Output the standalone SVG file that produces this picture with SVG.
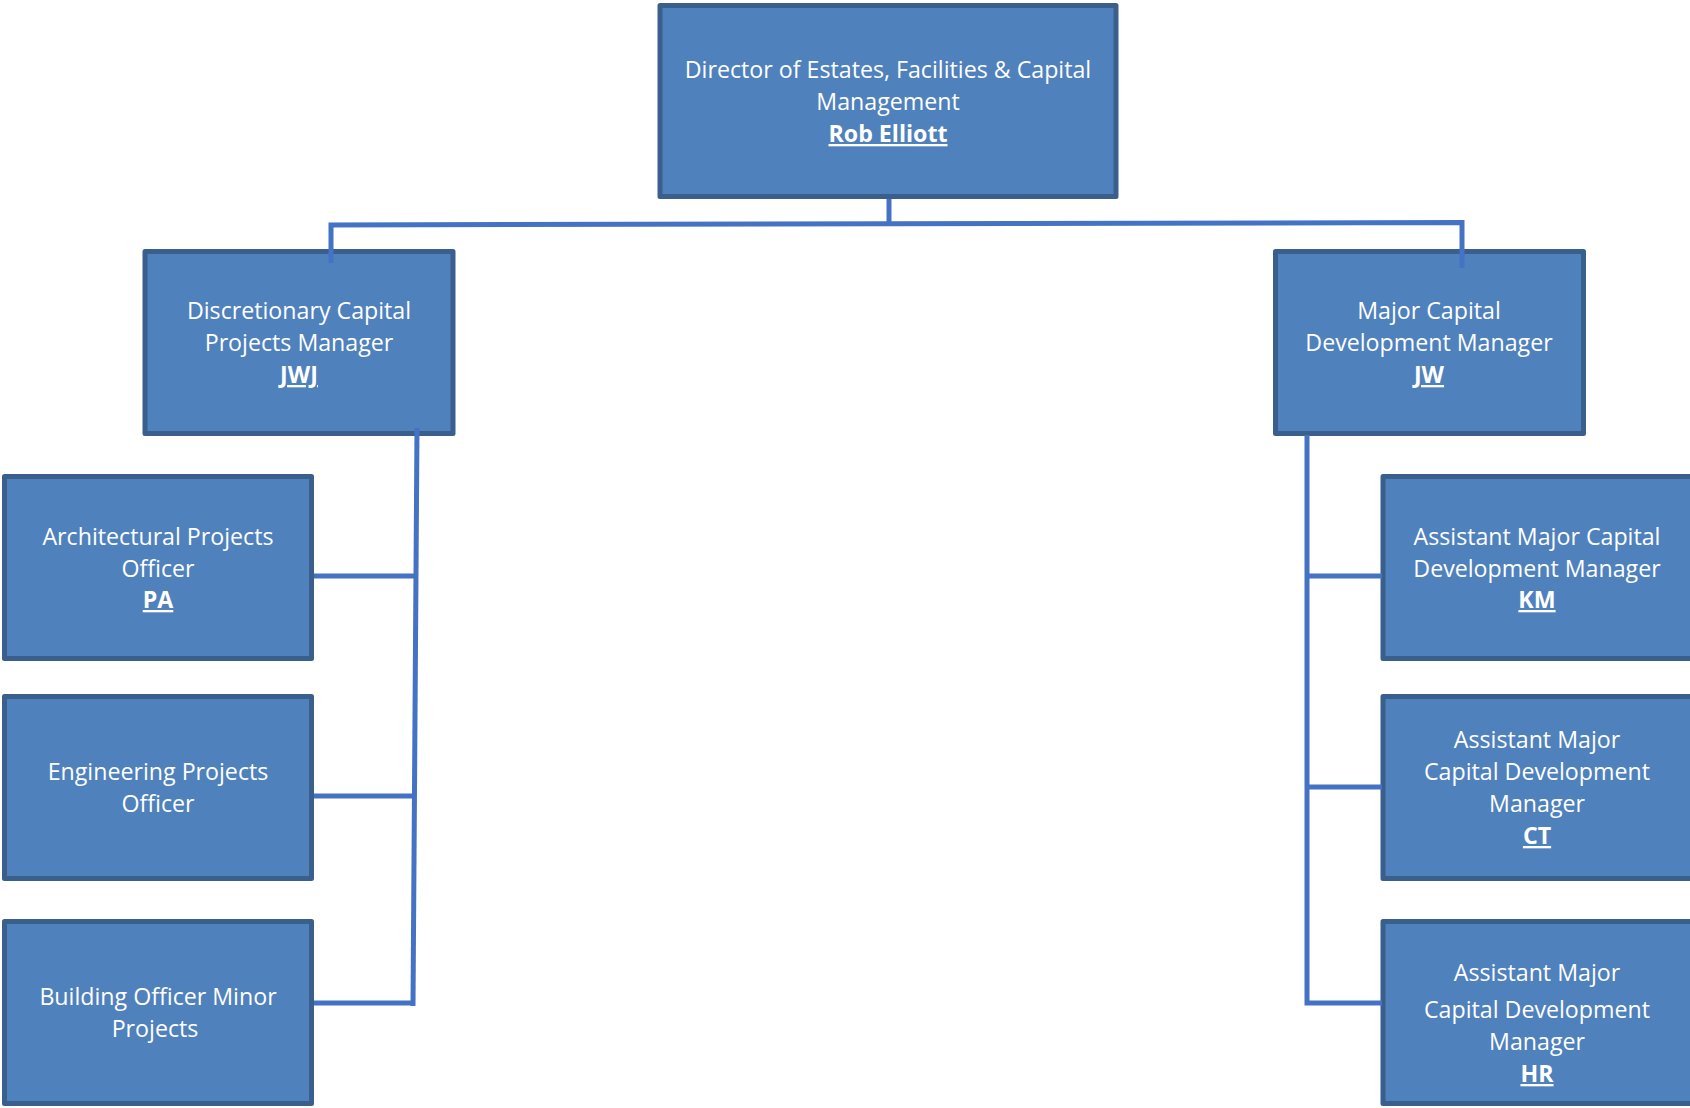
<svg xmlns="http://www.w3.org/2000/svg" width="1690" height="1108" viewBox="0 0 1690 1108">
<style>
.box{fill:#4F81BD;stroke:#3A5F8C;stroke-width:5;stroke-linejoin:round}
.lbl{font-family:"Open Sans","Noto Sans",sans-serif;font-size:23.2px;fill:#FFFFFF;text-anchor:middle}
.nm{font-weight:bold;text-decoration:underline}
.con{fill:none;stroke:#4472C4;stroke-width:5;stroke-linecap:butt;stroke-linejoin:miter}
</style>
<rect width="1690" height="1108" fill="#FFFFFF"/>
<g id="director">
<rect class="box" x="660" y="5.5" width="456" height="191"/>
<text class="lbl" x="888" y="78">Director of Estates, Facilities &amp; Capital</text>
<text class="lbl" x="888" y="110">Management</text>
<text class="lbl nm" x="888" y="142">Rob Elliott</text>
</g>
<g id="dcpm">
<rect class="box" x="145" y="251.5" width="308" height="182"/>
<text class="lbl" x="299" y="319">Discretionary Capital</text>
<text class="lbl" x="299" y="351">Projects Manager</text>
<text class="lbl nm" x="299" y="383">JWJ</text>
</g>
<g id="mcdm">
<rect class="box" x="1275.5" y="251.5" width="308" height="182"/>
<text class="lbl" x="1429" y="319">Major Capital</text>
<text class="lbl" x="1429" y="351">Development Manager</text>
<text class="lbl nm" x="1429" y="383">JW</text>
</g>
<g id="pa">
<rect class="box" x="4.5" y="476.5" width="307" height="182"/>
<text class="lbl" x="158" y="545">Architectural Projects</text>
<text class="lbl" x="158" y="577">Officer</text>
<text class="lbl nm" x="158" y="608">PA</text>
</g>
<g id="epo">
<rect class="box" x="4.5" y="696.5" width="307" height="182"/>
<text class="lbl" x="158" y="780">Engineering Projects</text>
<text class="lbl" x="158" y="812">Officer</text>
</g>
<g id="bomp">
<rect class="box" x="4.5" y="921.5" width="307" height="182"/>
<text class="lbl" x="158" y="1005">Building Officer Minor</text>
<text class="lbl" x="155" y="1037">Projects</text>
</g>
<g id="km">
<rect class="box" x="1383" y="476.5" width="330" height="182"/>
<text class="lbl" x="1537" y="545">Assistant Major Capital</text>
<text class="lbl" x="1537" y="577">Development Manager</text>
<text class="lbl nm" x="1537" y="608">KM</text>
</g>
<g id="ct">
<rect class="box" x="1383" y="696.5" width="330" height="182"/>
<text class="lbl" x="1537" y="748">Assistant Major</text>
<text class="lbl" x="1537" y="780">Capital Development</text>
<text class="lbl" x="1537" y="812">Manager</text>
<text class="lbl nm" x="1537" y="844">CT</text>
</g>
<g id="hr">
<rect class="box" x="1383" y="921.5" width="330" height="182"/>
<text class="lbl" x="1537" y="981">Assistant Major</text>
<text class="lbl" x="1537" y="1018">Capital Development</text>
<text class="lbl" x="1537" y="1050">Manager</text>
<text class="lbl nm" x="1537" y="1082">HR</text>
</g>
<g id="connectors">
<path class="con" d="M889,199 L889,224"/>
<path class="con" d="M331,263 L331,225 L1462,222.5 L1462,268"/>
<path class="con" d="M417,428 L413,1006"/>
<path class="con" d="M314,576 L416,576"/>
<path class="con" d="M314,796 L415,796"/>
<path class="con" d="M314,1003 L415,1003"/>
<path class="con" d="M1307,435 L1307,1003 L1382,1003"/>
<path class="con" d="M1307,576 L1382,576"/>
<path class="con" d="M1307,787 L1382,787"/>
</g>
</svg>
